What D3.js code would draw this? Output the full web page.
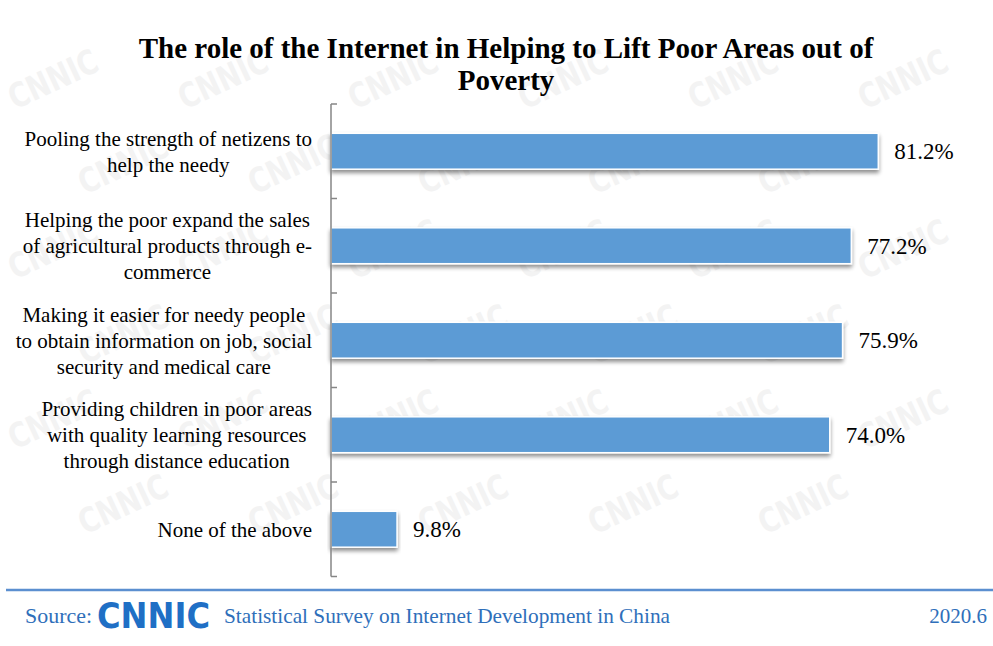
<!DOCTYPE html>
<html>
<head>
<meta charset="utf-8">
<script src="https://cdn.jsdelivr.net/npm/d3@7/dist/d3.min.js"></script>
<style>
  html, body { margin: 0; padding: 0; background: #fff; }
  svg { display: block; }
</style>
</head>
<body>
<svg id="chart" width="993" height="646"></svg>
<script>
// Survey data
const categories = [
  ["Pooling the strength of netizens to", "help the needy"],
  ["Helping the poor expand the sales", "of agricultural products through e-", "commerce"],
  ["Making it easier for needy people", "to obtain information on job, social", "security and medical care"],
  ["Providing children in poor areas", "with quality learning resources", "through distance education"],
  ["None of the above"]
];
const values = [81.2, 77.2, 75.9, 74.0, 9.8];
const valueLabels = ["81.2%", "77.2%", "75.9%", "74.0%", "9.8%"];

const titleLines = ["The role of the Internet in Helping to Lift Poor Areas out of", "Poverty"];
const sourceText = "Statistical Survey on Internet Development in China";
const dateText = "2020.6";

const W = 993, H = 646;
const svg = d3.select("#chart");
const serif = "'Liberation Serif', 'Times New Roman', serif";
const blue = "#2f6fba";

// Faint tiled CNNIC watermark, kept inside the canvas
const wm = svg.append("g").attr("fill", "#f3f3f3").attr("font-family", "'DejaVu Sans', sans-serif")
  .attr("font-weight", "bold").attr("font-size", 34);
for (let row = 0; row < 6; row++) {
  for (let col = 0; col < 6; col++) {
    const x = col * 170 + (row % 2 ? 85 : 15);
    const y = row * 85 + 110;
    if (x + 95 > W) continue;
    wm.append("text").attr("transform", `translate(${x},${y}) rotate(-25)`)
      .attr("textLength", 95).attr("lengthAdjust", "spacingAndGlyphs").text("CNNIC");
  }
}

// Title
svg.append("g").selectAll("text").data(titleLines).join("text")
  .attr("x", 506).attr("y", (d, i) => 58 + i * 32)
  .attr("text-anchor", "middle").attr("font-family", serif)
  .attr("font-weight", "bold").attr("font-size", 29).attr("fill", "#000")
  .text(d => d);

// Scales
const x0 = 331;
const x = d3.scaleLinear().domain([0, 100]).range([x0, x0 + 674]);
const y = d3.scaleBand().domain(d3.range(categories.length)).range([104, 576.5]).paddingInner(0.62).paddingOuter(0.31);
const yTicks = d3.scaleBand().domain(d3.range(categories.length)).range([104, 576.5]);

// Drop shadow for bars
const defs = svg.append("defs");
const f = defs.append("filter").attr("id", "shadow").attr("x", "-5%").attr("y", "-20%").attr("width", "110%").attr("height", "160%");
f.append("feGaussianBlur").attr("in", "SourceAlpha").attr("stdDeviation", 2.2);
f.append("feOffset").attr("dx", 0).attr("dy", 3).attr("result", "ob");
f.append("feComponentTransfer").append("feFuncA").attr("type", "linear").attr("slope", 0.45);
const fm = f.append("feMerge");
fm.append("feMergeNode");
fm.append("feMergeNode").attr("in", "SourceGraphic");

// Bars
svg.append("g").selectAll("rect").data(values).join("rect")
  .attr("x", x(0)).attr("y", (d, i) => y(i))
  .attr("width", d => x(d) - x(0)).attr("height", y.bandwidth())
  .attr("fill", "#5b9bd5").attr("stroke", "#fff").attr("stroke-width", 1.5)
  .attr("filter", "url(#shadow)");

// Value labels
svg.append("g").selectAll("text").data(values).join("text")
  .attr("x", d => x(d) + 16).attr("y", (d, i) => y(i) + y.bandwidth() / 2)
  .attr("dy", "0.35em").attr("font-family", serif).attr("font-size", 23).attr("fill", "#000")
  .text((d, i) => valueLabels[i]);

// Vertical axis with inward category separators
const axis = svg.append("g");
axis.append("line").attr("x1", x0).attr("x2", x0).attr("y1", 104).attr("y2", 576.5)
  .attr("stroke", "#868686").attr("stroke-width", 1.5);
const bounds = d3.range(categories.length).map(i => yTicks(i)).concat([576.5]);
axis.selectAll("line.tick").data(bounds).join("line").attr("class", "tick")
  .attr("x1", x0).attr("x2", x0 + 6).attr("y1", d => d).attr("y2", d => d)
  .attr("stroke", "#868686").attr("stroke-width", 1.5);

// Category labels: block right-aligned to the axis, lines centered within block
const labelSize = 21, lineH = 26, rightEdge = 312;
const lg = svg.append("g").attr("font-family", serif).attr("font-size", labelSize).attr("fill", "#000");
categories.forEach((lines, i) => {
  const cy = y(i) + y.bandwidth() / 2;
  const widths = lines.map(l => {
    const t = lg.append("text").text(l);
    const w = t.node().getComputedTextLength();
    t.remove();
    return w;
  });
  const bw = d3.max(widths);
  const cx = rightEdge - bw / 2;
  const top = cy - (lines.length - 1) * lineH / 2;
  lines.forEach((l, j) => {
    lg.append("text").attr("x", cx).attr("y", top + j * lineH).attr("dy", "0.35em")
      .attr("text-anchor", "middle").text(l);
  });
});

// Footer
svg.append("line").attr("x1", 6).attr("x2", W).attr("y1", 590).attr("y2", 590)
  .attr("stroke", "#5b8fd0").attr("stroke-width", 2.5);
svg.append("text").attr("x", 25).attr("y", 623).attr("font-family", serif).attr("font-size", 21)
  .attr("fill", blue).attr("textLength", 67).attr("lengthAdjust", "spacingAndGlyphs").text("Source:");
svg.append("text").attr("x", 97).attr("y", 628).attr("font-family", "'DejaVu Sans', sans-serif")
  .attr("font-weight", "bold").attr("font-size", 36).attr("fill", "#1f6fc5")
  .attr("textLength", 113).attr("lengthAdjust", "spacingAndGlyphs").text("CNNIC");
svg.append("text").attr("x", 224).attr("y", 623).attr("font-family", serif).attr("font-size", 21)
  .attr("fill", blue).attr("textLength", 446).attr("lengthAdjust", "spacingAndGlyphs").text(sourceText);
svg.append("text").attr("x", 987).attr("y", 623).attr("text-anchor", "end").attr("font-family", serif)
  .attr("font-size", 21).attr("fill", blue).text(dateText);
</script>
</body>
</html>
